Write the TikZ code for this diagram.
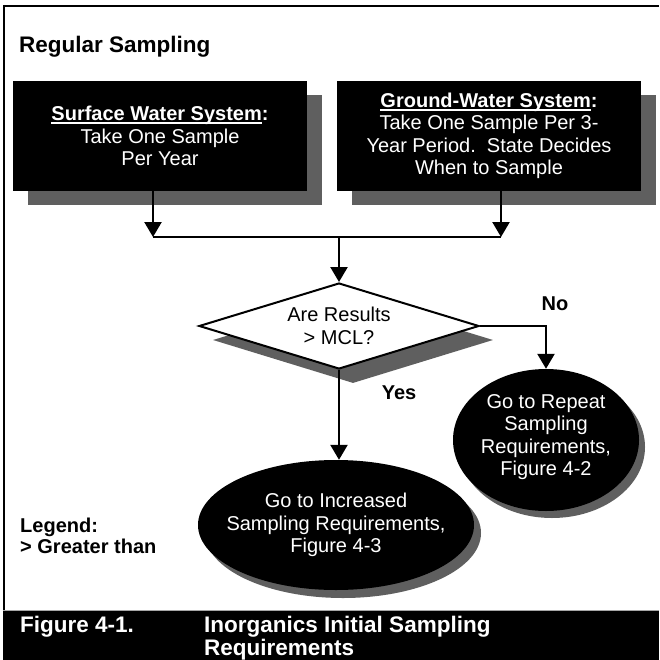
\documentclass[tikz,border=0pt]{standalone}
\usepackage{fontspec}
\setmainfont{Liberation Sans}
\usetikzlibrary{shapes.geometric,arrows.meta}
\definecolor{shade}{RGB}{95,95,95}
\newcommand\whiteul[1]{\setbox0\hbox{#1}\rlap{\rule[-3.5pt]{\wd0}{1.8pt}}\box0}
\begin{document}
\begin{tikzpicture}[x=1pt,y=-1pt,
  every node/.style={font=\fontsize{20}{22.5}\selectfont},
  sysbox/.style={fill=black,text=white,align=center,inner sep=0pt,minimum height=110pt},
  boxshade/.style={fill=shade,inner sep=0pt,minimum height=110pt},
  decide/.style={diamond,aspect=3.26,inner sep=0pt,minimum width=280pt,minimum height=86pt},
  goal/.style={ellipse,fill=black,inner sep=0pt},
  goalshade/.style={ellipse,fill=shade,inner sep=0pt},
  conn/.style={line width=2.4pt},
  arr/.style={conn,-{Triangle[width=17pt,length=15pt]}},
  boldlab/.style={font=\fontsize{20}{22.5}\selectfont\bfseries},
  captxt/.style={anchor=base west,text=white,font=\fontsize{22.5}{24}\selectfont\bfseries}]
\useasboundingbox (0,0) rectangle (659,660);
% frame
\draw[line width=2pt] (3,6) -- (659,6);
\draw[line width=2pt] (4,5) -- (4,611);
% title
\node[anchor=base west,inner sep=0pt,font=\fontsize{22.5}{24}\selectfont\bfseries] (title) at (19,52.5) {Regular Sampling};
% system boxes
\node[boxshade,minimum width=294pt] (b1s) at (175,150) {};
\node[sysbox,minimum width=294pt] (b1) at (160,136) {\bfseries\whiteul{Surface Water System}:\\Take One Sample\\Per Year};
\node[boxshade,minimum width=304pt] (b2s) at (504,150) {};
\node[sysbox,minimum width=304pt] (b2) at (489,136) {\bfseries\whiteul{Ground-Water System}:\\Take One Sample Per 3-\\Year Period.\ \ State Decides\\When to Sample};
% decision
\node[decide,fill=shade] (ds) at (353,340) {};
\node[decide,draw,line width=2pt,fill=white,align=center] (d) at (339,326) {Are Results\\> MCL?};
% outcomes
\node[goalshade,minimum width=186pt,minimum height=142pt] (e2s) at (552,447) {};
\node[goal,minimum width=186pt,minimum height=142pt,
  label={[align=center,text=white,yshift=3pt]center:Go to Repeat\\Sampling\\Requirements,\\Figure 4-2}] (e2) at (546,440) {};
\node[goalshade,minimum width=276pt,minimum height=130pt] (e1s) at (343,533) {};
\node[goal,minimum width=276pt,minimum height=130pt,
  label={[align=center,text=white]center:Go to Increased\\Sampling Requirements,\\Figure 4-3}] (e1) at (336,525) {};
% connectors
\coordinate (jl) at (153,237);
\coordinate (jr) at (501,237);
\coordinate (jm) at (339,237);
\draw[arr] (b1.south -| jl) -- (jl);
\draw[arr] (b2.south -| jr) -- (jr);
\draw[conn] (jl) -- (jr);
\draw[arr] (jm) -- (d.north);
\draw[arr] (d.east) -| (e2.north);
\draw[arr] (d.south) -- (d.south |- e1.north);
% branch labels
\node[boldlab,anchor=base] (no) at (555,310) {No};
\node[boldlab,anchor=base] (yes) at (399,399) {Yes};
% legend
\node[boldlab,anchor=base west,inner sep=0pt] (leg1) at (20,532) {Legend:};
\node[boldlab,anchor=base west,inner sep=0pt] (leg2) at (20,553) {> Greater than};
% caption band
\fill[black] (3,610) rectangle (659,660);
\draw[gray!70,line width=0.8pt] (3,610) -- (659,610);
\node[captxt,inner sep=0pt] (fig) at (20,632) {Figure 4-1.};
\node[captxt,inner sep=0pt] (cap1) at (204,632) {Inorganics Initial Sampling};
\node[captxt,inner sep=0pt] (cap2) at (204,655) {Requirements};
\end{tikzpicture}
\end{document}
